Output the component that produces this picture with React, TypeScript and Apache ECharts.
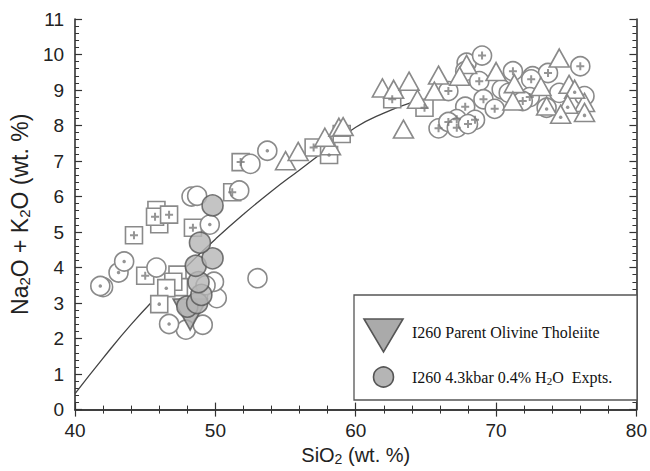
import React, { useEffect, useRef } from "react";
import * as echarts from "echarts";

// Axis ticks
const xTickValues = [40, 50, 60, 70, 80];
const yTickValues = [0, 1, 2, 3, 4, 5, 6, 7, 8, 9, 10, 11];

// Trend curve (SiO2, Na2O+K2O)
const curveSiO2 = [40, 42, 44, 46, 48, 50, 52, 54, 56, 58, 60, 62, 64];
const curveAlk = [0.45, 1.45, 2.4, 3.25, 4.05, 4.8, 5.5, 6.15, 6.75, 7.35, 7.95, 8.35, 8.65];

// Open symbols: [SiO2, Na2O+K2O]
const plainSquares = [
  [45.8, 5.62], [46.0, 5.22], [47.3, 3.8], [47.4, 3.45], [59.0, 7.76], [47.0, 3.6],
];
const squaresPlus = [
  [44.2, 4.91], [45.7, 5.43], [46.7, 5.49], [48.4, 5.12], [45.0, 3.77],
  [51.2, 6.12], [51.8, 6.97], [57.0, 7.38], [62.6, 8.74], [64.9, 8.5],
];
const squaresDot = [
  [46.5, 3.42], [46.0, 2.97], [58.1, 7.17],
];
const plainCircles = [
  [42.0, 3.45], [45.8, 4.0], [47.9, 2.25], [49.1, 2.39], [50.1, 3.14], [49.9, 3.6],
  [53.0, 3.7], [48.3, 6.0], [48.7, 6.02], [51.7, 6.17], [52.5, 6.92], [67.9, 9.77],
  [70.4, 9.02], [70.9, 8.92], [74.5, 8.92], [76.3, 8.83], [72.6, 9.39], [67.8, 9.53],
  [73.6, 8.5], [49.3, 3.5],
];
const circlesDot = [
  [41.8, 3.48], [43.1, 3.86], [43.5, 4.17], [46.7, 2.41], [49.6, 5.21], [53.7, 7.29],
];
const circlesPlus = [
  [69.0, 9.97], [68.8, 9.25], [66.6, 8.97], [69.1, 8.74], [67.8, 8.53], [69.9, 8.47],
  [67.2, 8.18], [68.5, 8.16], [65.9, 7.92], [66.6, 8.1], [67.2, 7.94], [68.0, 8.04],
  [71.2, 9.53], [73.7, 9.48], [76.0, 9.67], [72.5, 9.3], [72.4, 8.8], [71.9, 8.69],
];
const triangles = [
  [55.0, 7.01], [55.9, 7.27], [58.2, 7.43], [57.8, 7.67], [58.8, 7.95], [59.1, 7.97],
  [63.4, 7.9], [61.9, 9.06], [62.7, 9.02], [63.8, 9.25], [64.4, 8.74], [65.9, 9.42],
  [65.6, 8.97], [67.9, 9.72], [67.4, 9.39], [70.0, 9.52], [71.3, 9.18], [71.2, 8.69],
  [73.2, 9.1], [74.5, 9.9], [75.2, 9.16], [76.3, 8.65],
];
const trianglesDot = [
  [75.6, 9.02], [73.6, 8.55], [75.1, 8.6], [74.6, 8.32], [76.3, 8.37],
];

// Experiments and parent
const exptSiO2 = [48.0, 48.7, 49.0, 48.8, 48.6, 49.8, 48.9, 49.8];
const exptAlk = [2.9, 3.0, 3.23, 3.59, 4.05, 4.26, 4.7, 5.75];
const parentPoint = [[48.2, 2.68]];

const outline = "#8a8a8a";
const markStroke = "#7a7a7a";
const plusPath = "path://M3,0 H5 V3 H8 V5 H5 V8 H3 V5 H0 V3 H3 Z";

function openSeries(data: number[][], symbol: string, size: any) {
  return {
    type: "scatter",
    data,
    symbol,
    symbolSize: size,
    z: 3,
    itemStyle: { color: "#ffffff", borderColor: outline, borderWidth: 1.6, opacity: 1 },
    emphasis: { disabled: true },
  };
}
function markSeries(data: number[][], symbol: string, size: any, offset: number[] = [0, 0]) {
  return {
    type: "scatter",
    data,
    symbol,
    symbolSize: size,
    symbolOffset: offset,
    z: 4,
    itemStyle: { color: markStroke, borderWidth: 0 },
    emphasis: { disabled: true },
  };
}

export default function App() {
  const ref = useRef<HTMLDivElement>(null);
  useEffect(() => {
    if (!ref.current) return;
    const chart = echarts.init(ref.current, undefined, { renderer: "svg" });
    const font = "'Liberation Sans', Arial, sans-serif";
    const serif = "'Liberation Serif', 'Times New Roman', serif";
    const subRich = {
      sub: { fontSize: 14, fontFamily: font, color: "#222", padding: [9, 0, 0, 0] },
    };
    const axisLineStyle = { color: "#333", width: 1.6 };
    const option: any = {
      animation: false,
      backgroundColor: "#ffffff",
      grid: { left: 75, right: 11, top: 19, bottom: 59 },
      xAxis: [
        {
          type: "value",
          min: xTickValues[0],
          max: xTickValues[xTickValues.length - 1],
          interval: 10,
          position: "bottom",
          axisLine: { show: true, lineStyle: axisLineStyle },
          axisTick: { show: true, inside: true, length: 7, lineStyle: { color: "#333", width: 1.2 } },
          minorTick: { show: true, splitNumber: 5, length: 4, lineStyle: { color: "#333", width: 1 } },
          splitLine: { show: false },
          axisLabel: { fontSize: 19, color: "#222", fontFamily: font, margin: 11 },
          name: "SiO{sub|2} (wt. %)",
          nameLocation: "middle",
          nameGap: 32,
          nameTextStyle: { fontSize: 20, color: "#222", fontFamily: font, rich: subRich },
        },
        {
          type: "value",
          min: xTickValues[0],
          max: xTickValues[xTickValues.length - 1],
          interval: 10,
          position: "top",
          axisLine: { show: true, lineStyle: axisLineStyle },
          axisTick: { show: true, inside: true, length: 7, lineStyle: { color: "#333", width: 1.2 } },
          minorTick: { show: true, splitNumber: 5, length: 4, lineStyle: { color: "#333", width: 1 } },
          splitLine: { show: false },
          axisLabel: { show: false },
        },
      ],
      yAxis: [
        {
          type: "value",
          min: yTickValues[0],
          max: yTickValues[yTickValues.length - 1],
          interval: 1,
          position: "left",
          axisLine: { show: true, lineStyle: axisLineStyle },
          axisTick: { show: true, inside: true, length: 7, lineStyle: { color: "#333", width: 1.2 } },
          minorTick: { show: true, splitNumber: 5, length: 4, lineStyle: { color: "#333", width: 1 } },
          splitLine: { show: false },
          axisLabel: { fontSize: 19, color: "#222", fontFamily: font, margin: 11 },
          name: "Na{sub|2}O + K{sub|2}O (wt. %)",
          nameLocation: "middle",
          nameRotate: 90,
          nameGap: 40,
          nameTextStyle: { fontSize: 23, color: "#222", fontFamily: font, rich: { sub: { ...subRich.sub, fontSize: 15, padding: [10, 0, 0, 0] } } },
        },
        {
          type: "value",
          min: yTickValues[0],
          max: yTickValues[yTickValues.length - 1],
          interval: 1,
          position: "right",
          axisLine: { show: true, lineStyle: axisLineStyle },
          axisTick: { show: true, inside: true, length: 7, lineStyle: { color: "#333", width: 1.2 } },
          minorTick: { show: true, splitNumber: 5, length: 4, lineStyle: { color: "#333", width: 1 } },
          splitLine: { show: false },
          axisLabel: { show: false },
        },
      ],
      series: [
        {
          type: "line",
          data: curveSiO2.map((x, i) => [x, curveAlk[i]]),
          smooth: true,
          showSymbol: false,
          z: 2,
          lineStyle: { color: "#444", width: 1.3 },
          emphasis: { disabled: true },
        },
        openSeries(plainSquares, "rect", 17),
        openSeries(squaresPlus, "rect", 17),
        markSeries(squaresPlus, plusPath, 8),
        openSeries(squaresDot, "rect", 17),
        markSeries(squaresDot, "circle", 3.5),
        openSeries(plainCircles, "circle", 19),
        openSeries(circlesDot, "circle", 19),
        markSeries(circlesDot, "circle", 3.5),
        openSeries(circlesPlus, "circle", 19),
        markSeries(circlesPlus, plusPath, 8),
        openSeries(triangles, "triangle", [20, 18]),
        openSeries(trianglesDot, "triangle", [20, 18]),
        markSeries(trianglesDot, "circle", 3.5, [0, 3]),
        {
          type: "scatter",
          data: parentPoint,
          symbol: "triangle",
          symbolRotate: 180,
          symbolSize: [34, 31],
          z: 5,
          itemStyle: { color: "#aaaaaa", borderColor: "#555", borderWidth: 1.6 },
          emphasis: { disabled: true },
        },
        {
          type: "scatter",
          data: exptSiO2.map((x, i) => [x, exptAlk[i]]),
          symbol: "circle",
          symbolSize: 21,
          z: 6,
          itemStyle: { color: "#b5b5b5", borderColor: "#555", borderWidth: 1.6 },
          emphasis: { disabled: true },
        },
      ],
      graphic: [
        {
          type: "rect",
          shape: { x: 354, y: 295, width: 283, height: 105 },
          style: { fill: "#ffffff", stroke: "#555", lineWidth: 1.3 },
          z: 100,
        },
        {
          type: "polygon",
          shape: { points: [[364, 319], [403, 319], [383.5, 352]] },
          style: { fill: "#aaaaaa", stroke: "#555", lineWidth: 1.6 },
          z: 101,
        },
        {
          type: "circle",
          shape: { cx: 383.5, cy: 377, r: 10 },
          style: { fill: "#b5b5b5", stroke: "#555", lineWidth: 1.6 },
          z: 101,
        },
        {
          type: "text",
          x: 412,
          y: 332,
          style: {
            text: "I260 Parent Olivine Tholeiite",
            font: "16px " + serif,
            fill: "#111",
            verticalAlign: "middle",
          },
          z: 101,
        },
        {
          type: "text",
          x: 412,
          y: 377,
          style: {
            text: "I260 4.3kbar 0.4% H{sub|2}O  Expts.",
            fontSize: 16,
            fontFamily: serif,
            fill: "#111",
            verticalAlign: "middle",
            rich: {
              sub: { fontSize: 11, fontFamily: serif, fill: "#111", padding: [7, 0, 0, 0] },
            },
          },
          z: 101,
        },
      ],
    };
    chart.setOption(option);
    return () => chart.dispose();
  }, []);
  return (
    <div
      ref={ref}
      style={{ position: "fixed", left: 0, top: 0, width: 650, height: 471, background: "#fff" }}
    />
  );
}
